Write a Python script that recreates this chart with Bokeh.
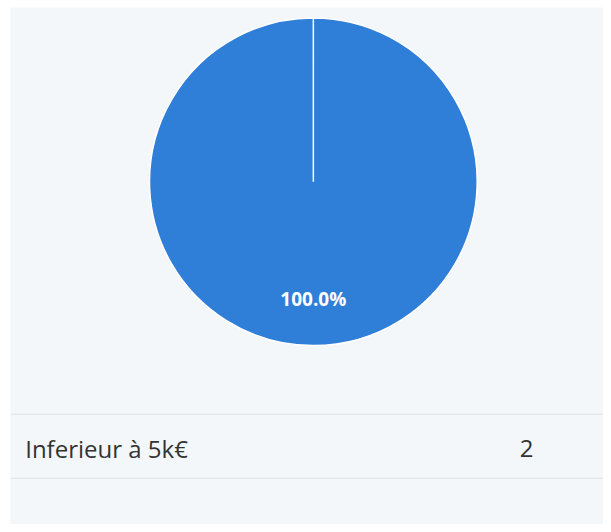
import math
from bokeh.plotting import figure
from bokeh.models import Range1d, ColumnDataSource, BoxAnnotation
from bokeh.core.properties import value
from bokeh.embed import file_html
from bokeh.resources import INLINE

# ---- data ----
categories = ["Inferieur à 5k€"]
counts = [2]
colors = ["#2f7ed8"]

total = sum(counts)
shares = [c / total for c in counts]

# angles: start at top, go clockwise
starts, ends, mids = [], [], []
acc = 0.0
EPS = 1e-4
for s in shares:
    a0 = math.pi / 2 - acc * 2 * math.pi
    sweep = min(s * 2 * math.pi, 2 * math.pi - EPS)
    a1 = a0 - sweep
    starts.append(a1)
    ends.append(a0)
    mids.append((a0 + a1) / 2)
    acc += s

BG = "#f4f7fa"
W, H = 603, 524
RW, RH = 611, 532  # reference pixel frame
p = figure(width=W, height=H, output_backend="svg", toolbar_location=None,
           x_range=Range1d(0, RW), y_range=Range1d(0, RH),
           min_border=0, min_border_left=0, min_border_right=0,
           min_border_top=0, min_border_bottom=0)
p.axis.visible = False
p.grid.visible = False
p.outline_line_color = None
p.background_fill_color = "white"
p.border_fill_color = "white"

# panel
p.add_layout(BoxAnnotation(left=10, right=RW, bottom=0, top=RH - 7,
                           fill_color=BG, fill_alpha=1, line_color=None, level="underlay"))

cx, cy, r = 317, RH - 184, 166

src = ColumnDataSource(dict(start=starts, end=ends, color=colors,
                            label=[f"{s*100:.1f}%" for s in shares],
                            lx=[cx + 0.72 * r * math.cos(m) for m in mids],
                            ly=[cy + 0.72 * r * math.sin(m) for m in mids]))
p.wedge(x=cx, y=cy, radius=r, start_angle="start", end_angle="end",
        fill_color="color", line_color="white", line_width=1.5, source=src)
p.text(x="lx", y="ly", text="label", source=src, text_color="white",
       text_font=value("Open Sans"), text_font_style="bold", text_font_size="19px",
       text_align="center", text_baseline="middle")

# table
row_top, row_bot = RH - 420, RH - 485
p.segment(x0=[10, 10], y0=[row_top, row_bot], x1=[RW, RW], y1=[row_top, row_bot],
          line_color="#dde2e7", line_width=1)
p.text(x=[25], y=[RH - 455], text=categories, text_color="#333333",
       text_font=value("Open Sans"), text_font_size="24px",
       text_align="left", text_baseline="middle")
p.text(x=[533], y=[RH - 455], text=[str(c) for c in counts], text_color="#333333",
       text_font=value("Open Sans"), text_font_size="24px",
       text_align="center", text_baseline="middle")

open("out.html", "w").write(file_html(p, INLINE))
